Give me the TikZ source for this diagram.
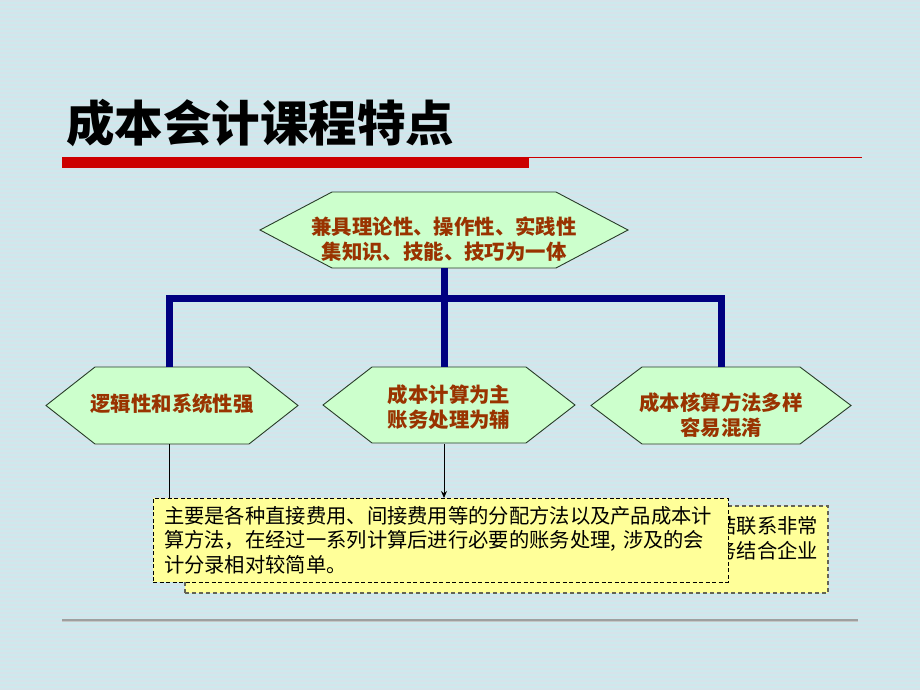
\documentclass[tikz,border=0pt]{standalone}
\usepackage{fontspec}
\newfontfamily\cjk{Noto Sans CJK SC}
\usetikzlibrary{arrows.meta}
\pgfdeclarelayer{background}
\pgfsetlayers{background,main}
\definecolor{bgA}{RGB}{205,233,237}
\definecolor{bgB}{RGB}{214,227,234}
\definecolor{hexfill}{RGB}{204,255,204}
\definecolor{hexedge}{RGB}{40,60,40}
\definecolor{brownTxt}{RGB}{153,51,0}
\definecolor{navyLine}{RGB}{0,0,128}
\definecolor{redBar}{RGB}{204,0,0}
\definecolor{noteFill}{RGB}{255,255,153}
\definecolor{backEdge}{RGB}{100,100,85}
\newcommand\drawhexagon[2]{%
  \filldraw[hexline] (#1.west) -- ([xshift=#2pt]#1.north west) -- ([xshift=-#2pt]#1.north east) -- (#1.east) -- ([xshift=-#2pt]#1.south east) -- ([xshift=#2pt]#1.south west) -- cycle;}
\tikzset{
  hexframe/.style={shape=rectangle, inner sep=0pt, outer sep=0pt},
  hexline/.style={fill=hexfill, draw=hexedge, line width=0.9pt},
  hextext/.style={font=\cjk\bfseries\fontsize{20.4pt}{25pt}\selectfont, text=brownTxt, align=center, inner sep=0pt},
  blueline/.style={draw=navyLine, line width=7pt, line join=miter},
  thinline/.style={draw=black, line width=0.9pt},
  frontbox/.style={fill=noteFill, draw=black, line width=0.9pt, dash pattern=on 4pt off 2.5pt, inner xsep=11pt, outer sep=0pt,
    text width=553pt, minimum height=84pt, align=left, font=\cjk\fontsize{20.3pt}{24.5pt}\selectfont},
  backbox/.style={fill=noteFill, draw=backEdge, line width=1.8pt, dash pattern=on 4pt off 3pt, inner xsep=10pt, outer sep=0pt,
    text width=623pt, minimum height=87pt, align=right, font=\cjk\fontsize{20.3pt}{24.5pt}\selectfont}
}
\begin{document}
\begin{tikzpicture}[x=1pt,y=-1pt]
\useasboundingbox (0,0) rectangle (920,690);
% title
\node[anchor=west, inner sep=0pt, font=\cjk\bfseries\fontsize{48.5pt}{52pt}\selectfont] (title) at (66,123) {成本会计课程特点};
% hexagon frames
\node[hexframe, minimum width=368pt, minimum height=76pt,
  label={[hextext, yshift=-9.5pt]center:{兼具理论性、操作性、实践性\\集知识、技能、技巧为一体}}] (top) at (444,230) {};
\node[hexframe, minimum width=252pt, minimum height=77pt,
  label={[hextext, yshift=2pt]center:{逻辑性和系统性强}}] (left) at (172,405.5) {};
\node[hexframe, minimum width=252pt, minimum height=76pt,
  label={[hextext, yshift=-2.5pt]center:{成本计算为主\\账务处理为辅}}] (mid) at (449,405) {};
\node[hexframe, minimum width=260pt, minimum height=77pt,
  label={[hextext, yshift=-10pt]center:{成本核算方法多样\\容易混淆}}] (right) at (721,405.5) {};
% junctions
\coordinate (j0) at (444,298);
\coordinate (jl) at (169,298);
\coordinate (jr) at (721,298);
\coordinate (am) at (444,444);
\coordinate (al) at (169,444);
% blue connectors
\draw[blueline] (top.south) -- (j0);
\draw[blueline] (jl |- left.north) -- (jl) -- (jr) -- (jr |- right.north);
\draw[blueline] (j0) -- (j0 |- mid.north);
% back note
\node[backbox] (back) at (506.5,549.5) {结联系非常\\务结合企业\\\mbox{}};
% front note
\node[frontbox] (front) at (440.5,540) {主要是各种直接费用、间接费用等的分配方法以及产品成本计\\算方法，在经过一系列计算后进行必要的账务处理, 涉及的会\\计分录相对较简单。};
\draw[thinline, -{Stealth[length=7pt,width=6pt]}] (am) -- (am |- front.north);
% background and decorations
\begin{pgfonlayer}{background}
\fill[bgA] (0,0) rectangle (920,690);
\foreach \k in {0,4,...,688} {\fill[bgB] (0,\k) rectangle (920,\k+2);}
\fill[redBar] (62,157) rectangle (529,168);
\fill[redBar] (529,156.6) rectangle (862,158.4);
\fill[gray!45] (62,619) rectangle (858,622);
\fill[gray!75] (62,618.5) rectangle (858,620.5);
\drawhexagon{top}{72}
\drawhexagon{left}{49}
\drawhexagon{mid}{49}
\drawhexagon{right}{51}
\draw[thinline] (al) -- (al |- front.north);
\end{pgfonlayer}
\end{tikzpicture}
\end{document}
